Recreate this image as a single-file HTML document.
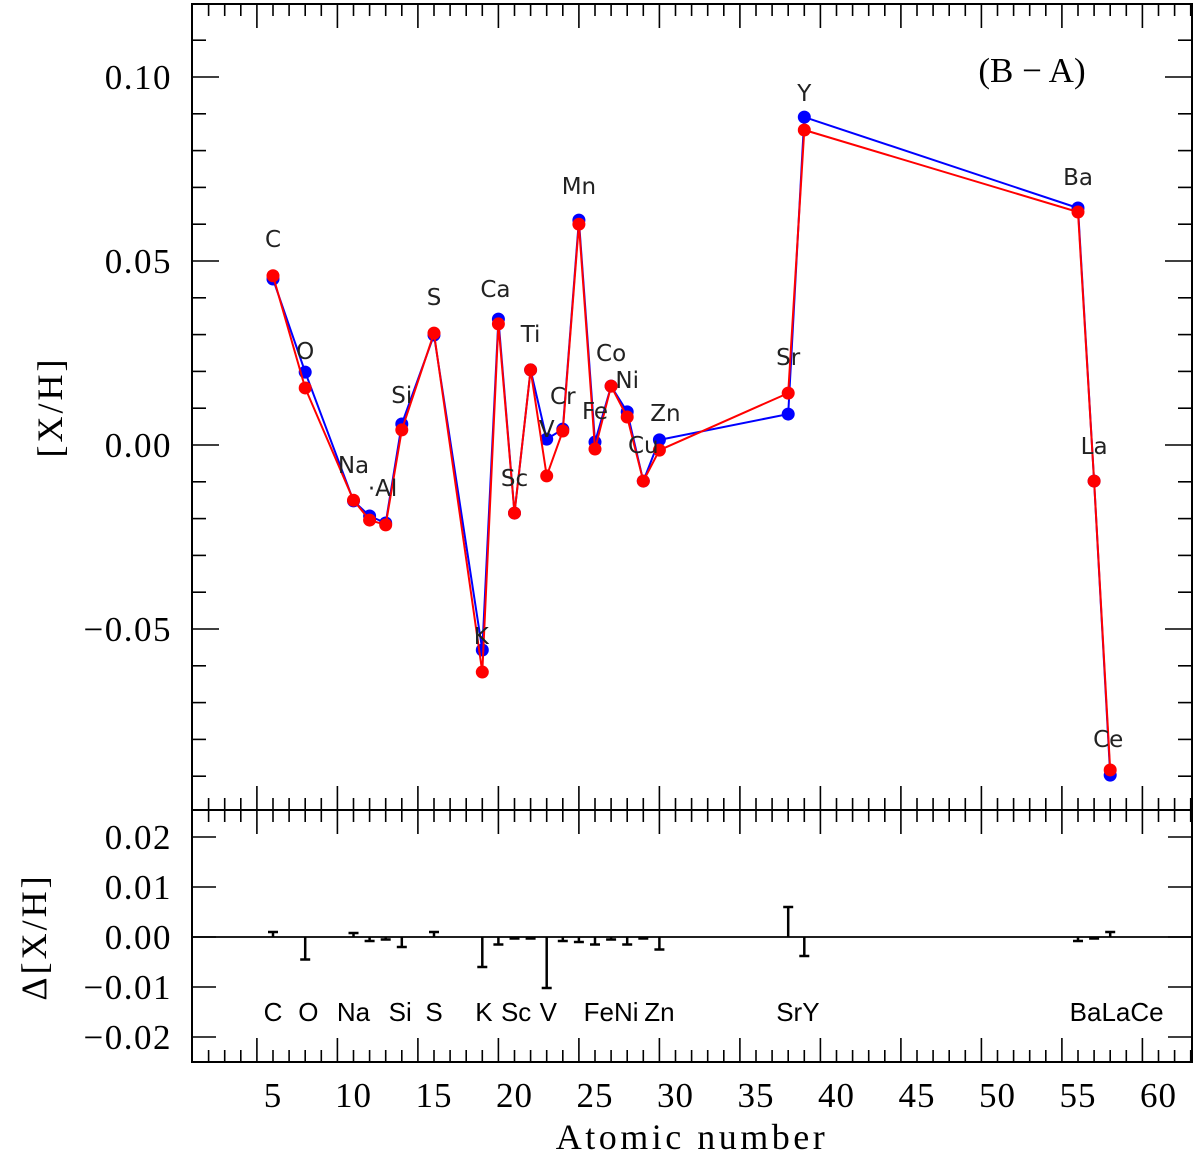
<!DOCTYPE html>
<html><head><meta charset="utf-8"><style>
html,body{margin:0;padding:0;background:#fff;}
svg text{font-family:"Liberation Serif",serif;}
.lab{font-family:"DejaVu Sans","Liberation Sans",sans-serif;font-size:23px;fill:#222;}
.blab{font-family:"Liberation Sans",sans-serif;font-size:26px;fill:#000;}
</style></head><body>
<svg id="chart" width="1200" height="1157" xmlns="http://www.w3.org/2000/svg"></svg>
<script>
const elements=["C","O","Na","Mg","Al","Si","S","K","Ca","Sc","Ti","V","Cr","Mn","Fe","Co","Ni","Cu","Zn","Sr","Y","Ba","La","Ce"];
const xpos=[5,7,10,11,12,13,15,18,19,20,21,22,23,24,25,26,27,28,29,37,38,55,56,57];
const blueVals=[0.0451,0.0198,-0.0152,-0.0193,-0.0212,0.0057,0.0299,-0.0557,0.0342,-0.0185,0.0204,0.0016,0.0043,0.0611,0.0008,0.0160,0.0090,-0.0098,0.0014,0.0084,0.0891,0.0644,-0.0098,-0.0897];
const redVals=[0.0460,0.0155,-0.0150,-0.0204,-0.0217,0.0041,0.0304,-0.0617,0.0329,-0.0185,0.0204,-0.0084,0.0038,0.0600,-0.0011,0.0160,0.0076,-0.0098,-0.0014,0.0141,0.0856,0.0633,-0.0098,-0.0883];
const deltaVals=[0.001,-0.0045,0.0008,-0.0008,-0.0005,-0.002,0.001,-0.006,-0.0015,-0.0003,-0.0003,-0.0102,-0.0008,-0.001,-0.0015,-0.0005,-0.0015,-0.0003,-0.0025,0.006,-0.0038,-0.0008,-0.0003,0.001];
const topTicks=[0.10,0.05,0.00,-0.05];
const topTickLabels=["0.10","0.05","0.00","\u22120.05"];
const botTicks=[0.02,0.01,0,-0.01,-0.02];
const botTickLabels=["0.02","0.01","0.00","\u22120.01","\u22120.02"];
const xTicks=[5,10,15,20,25,30,35,40,45,50,55,60];
const labelText=["C","O","Na","\u00b7Al","Al","Si","S","K","Ca","Sc","Ti","V","Cr","Mn","Fe","Co","Ni","Cu","Zn","Sr","Y","Ba","La","Ce"];
const labelOff=[[0,-32],[0,-13],[0,-28],[13,-20],null,[0,-21],[0,-30],[-1,-6],[-3,-22],[0,-27],[0,-28],[0,-2],[0,-25],[0,-26],[0,-23],[0,-25],[0,-24],[0,-28],[6,-19],[0,-49],[0,-16],[0,-23],[0,-27],[-2,-28]];
const botLabels=["C","O","Na","Si","S","K","Sc","V","FeNi","Zn","SrY","BaLaCe"];
const botLabelX=[5,7.2,10,12.9,15,18.1,20.1,22.1,26,29,37.6,57.4];

const L=192,R=1192,T=4,M=810,B=1062;
const sx=z=>192.5+z*16.1;
const sy=v=>445-v*3680;
const sy2=v=>937-v*5000;
const svg=document.getElementById('chart');
const NS="http://www.w3.org/2000/svg";
function mk(tag,attrs,parent){const e=document.createElementNS(NS,tag);for(const k in attrs)e.setAttribute(k,attrs[k]);(parent||svg).appendChild(e);return e;}
function line(x1,y1,x2,y2,w,c){return mk('line',{x1,y1,x2,y2,stroke:c||'#000','stroke-width':w||1.6});}

let f=mk('rect',{x:L,y:T,width:R-L,height:M-T,fill:'none',stroke:'#000','stroke-width':2});


f=mk('rect',{x:L,y:M,width:R-L,height:B-M,fill:'none',stroke:'#000','stroke-width':2});



for(let z=1;z<=62;z++){
  const x=sx(z);if(x<=L+1||x>=R-1)continue;
  const maj=(z-4)%5===0;const len=maj?24:12;
  line(x,T,x,T+len);line(x,M,x,M-len);line(x,M,x,M+len);line(x,B,x,B-len);
}
for(let k=-9;k<=11;k++){
  const v=k/100,y=sy(v);if(y<=T+1||y>=M-1)continue;
  const maj=k%5===0;const len=maj?27:14;
  line(L,y,L+len,y);line(R,y,R-len,y);
}
topTicks.forEach((v,i)=>{const t=mk('text',{x:172,y:sy(v)+12,'text-anchor':'end','font-size':35,'letter-spacing':'1.5'});t.textContent=topTickLabels[i];

});
botTicks.forEach((v,i)=>{line(L,sy2(v),L+24,sy2(v));line(R,sy2(v),R-24,sy2(v));
const t=mk('text',{x:172,y:sy2(v)+12,'text-anchor':'end','font-size':35,'letter-spacing':'1.5'});t.textContent=botTickLabels[i];

});
xTicks.forEach(z=>{const t=mk('text',{x:sx(z),y:1107,'text-anchor':'middle','font-size':35,'letter-spacing':'1'});t.textContent=z;

});

let t=mk('text',{x:692,y:1149,'text-anchor':'middle','font-size':36,'letter-spacing':'3.5'});t.textContent='Atomic number';


t=mk('text',{x:0,y:0,'text-anchor':'middle','font-size':36,'letter-spacing':'3',transform:'translate(62,407) rotate(-90)'});t.textContent='[X/H]';


t=mk('text',{x:0,y:0,'text-anchor':'middle','font-size':36,'letter-spacing':'3',transform:'translate(46,937) rotate(-90)'});t.textContent='\u0394[X/H]';


t=mk('text',{x:1032,y:82,'text-anchor':'middle','font-size':35,'xml:space':'preserve'});t.textContent='(B  \u2212  A)';



function series(vals,color,name){
  const p=mk('polyline',{points:vals.map((v,i)=>sx(xpos[i])+','+sy(v)).join(' '),fill:'none',stroke:color,'stroke-width':2});
  
  
}
function dots(vals,color,name){
  vals.forEach((v,i)=>{const c=mk('circle',{cx:sx(xpos[i]),cy:sy(v),r:6.5,fill:color});
  
  });
}
series(blueVals,'#0000ff','blue');
dots(blueVals,'#0000ff','blue');
series(redVals,'#ff0000','red');
dots(redVals,'#ff0000','red');

labelOff.forEach((o,i)=>{if(!o)return;
  const tt=mk('text',{x:sx(xpos[i])+o[0],y:sy(blueVals[i])+o[1],'text-anchor':'middle',class:'lab'});tt.textContent=labelText[i];
  
  });

line(L,sy2(0),R,sy2(0),1.8);
deltaVals.forEach((d,i)=>{const x=sx(xpos[i]);
  const g=mk('g',{});
  
  
  mk('line',{x1:x,y1:sy2(0),x2:x,y2:sy2(d),stroke:'#000','stroke-width':2.5},g);
  mk('line',{x1:x-5,y1:sy2(d),x2:x+5,y2:sy2(d),stroke:'#000','stroke-width':2.5},g);
});
botLabels.forEach((s,i)=>{const tt=mk('text',{x:sx(botLabelX[i]),y:1021,'text-anchor':'middle',class:'blab'});tt.textContent=s;
  
  });
</script>
</body></html>
